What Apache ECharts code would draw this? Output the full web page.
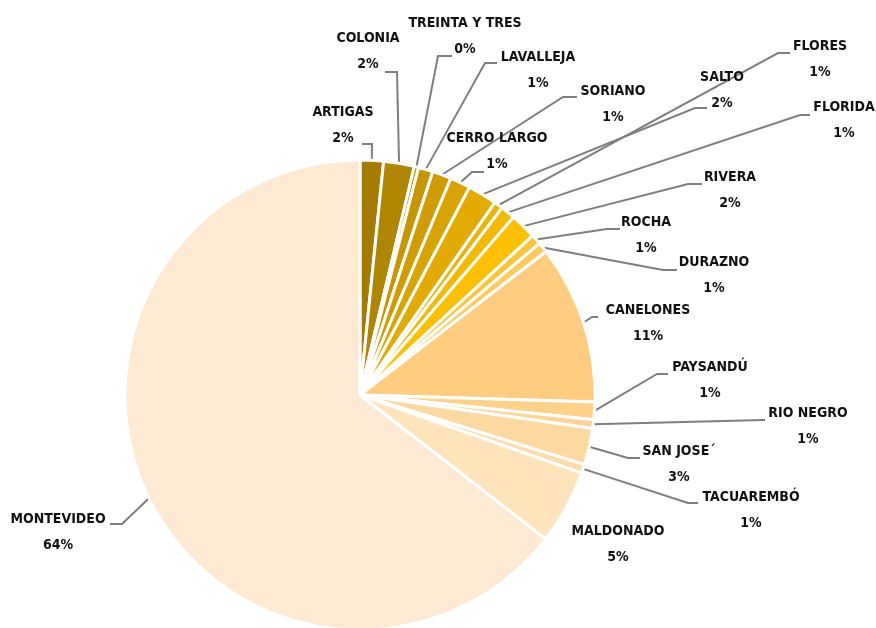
<!DOCTYPE html>
<html>
<head>
<meta charset="utf-8">
<script src="https://cdn.jsdelivr.net/npm/echarts@6/dist/echarts.min.js"></script>
<style>html,body{margin:0;padding:0;background:#fff}#c{width:876px;height:628px}</style>
</head>
<body>
<div id="c"></div>
<script>
const departments = ['ARTIGAS','COLONIA','TREINTA Y TRES','LAVALLEJA','SORIANO','CERRO LARGO','SALTO','FLORES','FLORIDA','RIVERA','ROCHA','DURAZNO','CANELONES','PAYSANDÚ','RIO NEGRO','SAN JOSE\u00B4','TACUAREMBÓ','MALDONADO','MONTEVIDEO'];
const shares = [1.6, 2.1, 0.3, 1.0, 1.3, 1.4, 2.0, 0.6, 1.0, 1.8, 0.7, 0.7, 10.9, 1.2, 0.6, 2.5, 0.6, 5.1, 64.3];

const colors = ['#a67a00','#b08500','#bb8d00','#c69500','#d09c00','#daa400','#e3ab00','#ecb300','#f4b900','#ffc000','#ffc53a','#ffc95c','#ffcc80','#ffd18b','#ffd596','#ffd9a2','#ffddab','#ffe4bc','#fee9d2'];
// label block centre [x, y], leader elbow [x, y], leader attach [x, y] (null = no leader)
const labelPos = [
  [[343,125],[372,144],[362,144]],
  [[368,51],[397,72],[385,72]],
  [[465,36],[438,56],[452,56]],
  [[538,70],[485,63],[497,63]],
  [[613,104],[563,97],[577,97]],
  [[497,151],[472,172],[484,172]],
  [[722,90],[695,108],[707,108]],
  [[820,59],[778,53],[790,53]],
  [[844,120],[800,115],[810,115]],
  [[730,190],[688,184],[702,184]],
  [[646,235],[607,229],[620,229]],
  [[714,275],[663,270],[677,270]],
  [[648,323],[592,317],[598,317]],
  [[710,380],[657,374],[668,374]],
  [[808,426],[764,420],[765,420]],
  [[679,464],[628,458],[640,458]],
  [[751,510],[688,503],[698,503]],
  [[618,544],null,null],
  [[58,532],[122,524],[110,524]]
];

const data = departments.map((n, i) => ({
  name: n,
  value: shares[i],
  itemStyle: { color: colors[i] },
  labelLine: { show: labelPos[i][1] !== null }
}));

const chart = echarts.init(document.getElementById('c'), null, { renderer: 'canvas' });
chart.setOption({
  animation: false,
  series: [{
    type: 'pie',
    center: [360, 395],
    radius: 235,
    startAngle: 90,
    clockwise: true,
    avoidLabelOverlap: false,
    data: data,
    itemStyle: { borderColor: '#ffffff', borderWidth: 3 },
    label: {
      show: true,
      position: 'outside',
      formatter: p => p.name + '\n' + Math.round(p.value) + '%',
      fontFamily: '"DejaVu Sans Condensed", "Liberation Sans Narrow", sans-serif',
      fontWeight: 'bold',
      fontSize: 14,
      lineHeight: 26,
      color: '#111111',
      align: 'center'
    },
    labelLine: {
      show: true,
      length: 5,
      length2: 5,
      smooth: false,
      lineStyle: { color: '#7f7f7f', width: 2 }
    },
    labelLayout: function (params) {
      const lp = labelPos[params.dataIndex];
      const out = { x: lp[0][0], y: lp[0][1], align: 'center', verticalAlign: 'middle' };
      if (lp[1] && params.labelLinePoints && params.labelLinePoints.length) {
        const p0 = params.labelLinePoints[0];
        out.labelLinePoints = [[p0[0], p0[1]], lp[1], lp[2]];
      }
      return out;
    }
  }]
});
</script>
</body>
</html>
